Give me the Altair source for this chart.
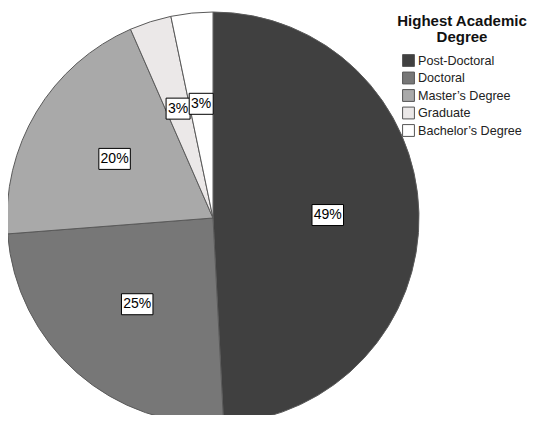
import altair as alt
import pandas as pd

degrees = ["Post-Doctoral", "Doctoral", "Master\u2019s Degree", "Graduate", "Bachelor\u2019s Degree"]
counts = [30, 15, 12, 2, 2]
pct_labels = ["49%", "25%", "20%", "3%", "3%"]
colors = ["#404040", "#777777", "#a9a9a9", "#ebe8e8", "#ffffff"]

df = pd.DataFrame({
    "degree": degrees,
    "count": counts,
    "label": pct_labels,
    "idx": list(range(len(degrees))),
})

FONT = "Liberation Sans"
W, H = 410, 405
CX, CY = 205, 208
xs = alt.Scale(domain=[-1, 1], range=[CX - 205, CX + 205], nice=False, zero=False)
ys = alt.Scale(domain=[-1, 1], range=[CY + 205, CY - 205], nice=False, zero=False)

pie = alt.Chart(df).mark_arc(radius=206, stroke="#5a5a5a", strokeWidth=1).encode(
    theta=alt.Theta("count:Q", stack=True),
    color=alt.Color(
        "degree:N",
        scale=alt.Scale(domain=degrees, range=colors),
        legend=alt.Legend(
            title=["Highest Academic", "Degree"],
            orient="none", legendX=389, legendY=4,
            symbolType="square", symbolSize=140,
            symbolStrokeColor="#555555", symbolStrokeWidth=1,
            labelFont=FONT, labelFontSize=12.6, labelColor="#222222",
            titleFont=FONT, titleFontSize=15, titleFontWeight="bold",
            titleColor="#111111", titleAnchor="middle", titleAlign="center",
            titleLineHeight=16, titlePadding=9, rowPadding=0.5,
            labelOffset=3, labelLimit=250,
        ),
    ),
    order=alt.Order("idx:Q"),
    x=alt.value(CX),
    y=alt.value(CY),
)

lab = alt.Chart(df).transform_joinaggregate(
    total="sum(count)"
).transform_window(
    cum="sum(count)", sort=[alt.SortField("idx")]
).transform_calculate(
    mid="(datum.cum - datum.count / 2) / datum.total * 2 * PI",
    lx="0.56 * sin(datum.mid)",
    ly="0.56 * cos(datum.mid)",
    hw="(7.5 * length(datum.label) + 9) / 2 / 205",
    hh="10.5 / 205",
).transform_calculate(
    bx1="datum.lx - datum.hw", bx2="datum.lx + datum.hw",
    by1="datum.ly - datum.hh", by2="datum.ly + datum.hh",
)

boxes = lab.mark_rect(fill="white", stroke="black", strokeWidth=1).encode(
    x=alt.X("bx1:Q", scale=xs, axis=None),
    x2="bx2:Q",
    y=alt.Y("by1:Q", scale=ys, axis=None),
    y2="by2:Q",
)

texts = lab.mark_text(font=FONT, fontSize=14, color="black", baseline="middle", align="center").encode(
    x=alt.X("lx:Q", scale=xs, axis=None),
    y=alt.Y("ly:Q", scale=ys, axis=None),
    text="label:N",
)

chart = alt.layer(pie, boxes, texts).properties(
    width=W, height=H,
    autosize=alt.AutoSizeParams(type="none"),
    padding={"left": 0, "top": 2, "right": 110, "bottom": 0},
).configure_view(stroke=None)

chart.save("out.html", embed_options={"renderer": "svg", "actions": False})
